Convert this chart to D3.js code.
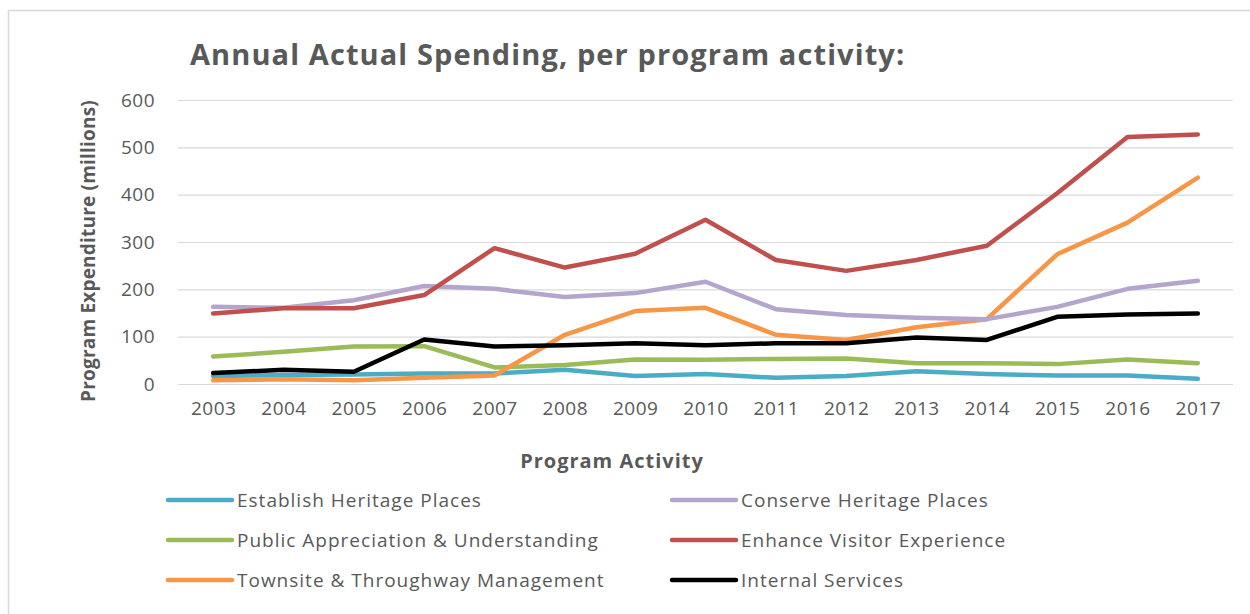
<!DOCTYPE html>
<html>
<head>
<meta charset="utf-8">
<script src="https://cdn.jsdelivr.net/npm/d3@7"></script>
<style>
  html, body { margin: 0; padding: 0; background: #fff; }
  svg { display: block; }
  text { font-family: "Open Sans", "DejaVu Sans", sans-serif; fill: #595959; }
</style>
</head>
<body>
<svg id="chart" width="1250" height="614"></svg>
<script>
// Fiscal years on the category axis
const years = ["2003","2004","2005","2006","2007","2008","2009","2010","2011","2012","2013","2014","2015","2016","2017"];

// Annual actual spending per program activity, in millions
const establishHeritage = [17, 19, 20, 22, 22, 30, 17, 21, 13, 17, 27, 21, 18, 18, 11];
const conserveHeritage  = [163, 161, 177, 207, 201, 184, 192, 216, 158, 146, 140, 137, 163, 201, 218];
const publicAppreciation = [58, 68, 79, 80, 35, 40, 52, 51, 53, 54, 44, 44, 42, 52, 44];
const visitorExperience = [149, 160, 160, 188, 287, 246, 275, 347, 262, 239, 262, 292, 403, 522, 527];
const townsiteThroughway = [8, 10, 8, 13, 18, 104, 154, 161, 104, 93, 120, 137, 274, 341, 436];
const internalServices  = [23, 30, 26, 94, 79, 82, 86, 82, 86, 86, 98, 93, 142, 147, 149];

const yTicks = [0, 100, 200, 300, 400, 500, 600];

const seriesNames = [
  "Establish Heritage Places",
  "Conserve Heritage Places",
  "Public Appreciation & Understanding",
  "Enhance Visitor Experience",
  "Townsite & Throughway Management",
  "Internal Services"
];
const seriesColors = ["#4BACC6", "#B3A5CC", "#9BBB59", "#C0504D", "#F79646", "#000000"];
const seriesValues = [establishHeritage, conserveHeritage, publicAppreciation, visitorExperience, townsiteThroughway, internalServices];

// Draw order: later entries sit on top
const drawOrder = [0, 2, 4, 1, 3, 5];

const svg = d3.select("#chart");

// Outer chart frame
svg.append("path")
  .attr("d", "M8.5,614 L8.5,10.5 L1250,10.5")
  .attr("fill", "none")
  .attr("stroke", "#D9D9D9")
  .attr("stroke-width", 1.5);

const plot = { left: 178, right: 1233, top: 100, bottom: 384 };

const x = d3.scalePoint()
  .domain(years)
  .range([plot.left, plot.right])
  .padding(0.5);

const y = d3.scaleLinear()
  .domain([0, 600])
  .range([plot.bottom, plot.top]);

// Horizontal gridlines
const yAxis = d3.axisLeft(y)
  .tickValues(yTicks)
  .tickSize(-(plot.right - plot.left))
  .tickPadding(23)
  .tickFormat(d3.format("d"));

const gy = svg.append("g")
  .attr("transform", `translate(${plot.left},0)`)
  .call(yAxis);
gy.select(".domain").remove();
gy.selectAll(".tick line").attr("stroke", "#D9D9D9").attr("stroke-width", 1.2);
gy.selectAll(".tick text")
  .attr("font-size", 19)
  .attr("fill", "#595959")
  .style("font-family", "'Open Sans', sans-serif")
  .style("letter-spacing", "0.5px");

// Category axis labels
const xAxis = d3.axisBottom(x).tickSize(0).tickPadding(18);
const gx = svg.append("g")
  .attr("transform", `translate(0,${plot.bottom})`)
  .call(xAxis);
gx.select(".domain").remove();
gx.selectAll(".tick text")
  .attr("font-size", 19)
  .attr("fill", "#595959")
  .style("font-family", "'Open Sans', sans-serif")
  .style("letter-spacing", "0.5px");

// Series lines
const line = d3.line()
  .x((d, i) => x(years[i]))
  .y(d => y(d));

svg.append("g")
  .selectAll("path")
  .data(drawOrder)
  .join("path")
  .attr("d", i => line(seriesValues[i]))
  .attr("fill", "none")
  .attr("stroke", i => seriesColors[i])
  .attr("stroke-width", 4.5)
  .attr("stroke-linejoin", "round")
  .attr("stroke-linecap", "round");

// Title
svg.append("text")
  .attr("x", 190)
  .attr("y", 65)
  .attr("font-size", 29)
  .attr("font-weight", "bold")
  .style("letter-spacing", "1.1px")
  .text("Annual Actual Spending, per program activity:");

// Axis titles
svg.append("text")
  .attr("transform", `translate(95,${(plot.top + 402) / 2}) rotate(-90)`)
  .attr("text-anchor", "middle")
  .attr("font-size", 19)
  .attr("font-weight", "bold")
  .style("letter-spacing", "0.2px")
  .text("Program Expenditure (millions)");

svg.append("text")
  .attr("x", 612)
  .attr("y", 468)
  .attr("text-anchor", "middle")
  .attr("font-size", 20)
  .attr("font-weight", "bold")
  .style("letter-spacing", "1px")
  .text("Program Activity");

// Legend in two columns, three rows
const legend = svg.append("g");
const legendItems = legend.selectAll("g")
  .data(seriesNames.map((name, i) => ({ name, i })))
  .join("g")
  .attr("transform", d => `translate(${d.i % 2 === 0 ? 168 : 672},${500 + Math.floor(d.i / 2) * 40})`);

legendItems.append("line")
  .attr("x1", 0).attr("x2", 64)
  .attr("y1", 0).attr("y2", 0)
  .attr("stroke", d => seriesColors[d.i])
  .attr("stroke-width", 4.5)
  .attr("stroke-linecap", "round");

legendItems.append("text")
  .attr("x", 69)
  .attr("y", 0)
  .attr("dy", "0.35em")
  .attr("font-size", 19)
  .style("letter-spacing", "1px")
  .text(d => d.name);
</script>
</body>
</html>
